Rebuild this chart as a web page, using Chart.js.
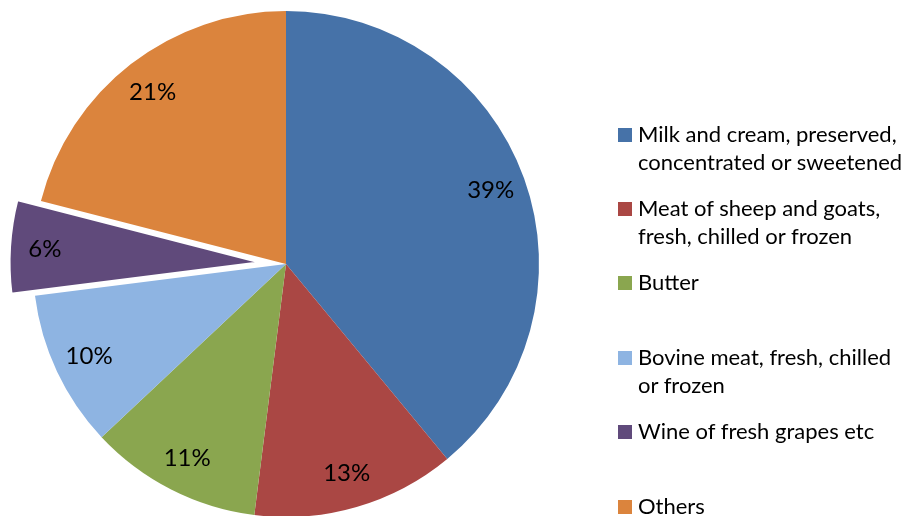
<!DOCTYPE html>
<html>
<head>
<meta charset="utf-8">
<title>Exports by product</title>
<script src="https://cdn.jsdelivr.net/npm/chart.js@4.4.0/dist/chart.umd.min.js"></script>
<style>
  html, body { margin: 0; padding: 0; background: #fff; overflow: hidden; }
  #wrap { position: relative; width: 912px; height: 516px; }
  #legend { position: absolute; left: 618px; top: 0; font-family: Lato, sans-serif; font-size: 22px; color: #000; }
  #legend .item { position: absolute; left: 0; display: flex; align-items: flex-start; white-space: nowrap; }
  #legend .box { width: 14px; height: 14px; margin-top: 8px; margin-right: 6px; flex: none; }
  #legend .text { line-height: 28px; }
</style>
</head>
<body>
<div id="wrap">
  <canvas id="myChart"></canvas>
  <div id="legend"></div>
</div>
<script>
const categories = [
	[ 'Milk and cream, preserved,', 'concentrated or sweetened' ],
	[ 'Meat of sheep and goats,', 'fresh, chilled or frozen' ],
	[ 'Butter' ],
	[ 'Bovine meat, fresh, chilled', 'or frozen' ],
	[ 'Wine of fresh grapes etc' ],
	[ 'Others' ]
];
const shares = [ 39, 13, 11, 10, 6, 21 ];
const sliceColors = [ '#4672a8', '#aa4744', '#8aa64f', '#8eb4e2', '#604a7b', '#db843d' ];

// the wine slice is pulled out of the pie
const explodedIndex = 4;
const explodeDistance = 24;
const legendPitch = 74.4;

// shift the exploded slice's centre after every layout
const explodePlugin = {
	id: 'explode',
	afterUpdate(chart) {
		const arc = chart.getDatasetMeta(0).data[explodedIndex];
		if (!arc) return;
		const mid = (arc.startAngle + arc.endAngle) / 2;
		arc.x += Math.cos(mid) * explodeDistance;
		arc.y += Math.sin(mid) * explodeDistance;
	}
};

// percentage text inside each slice
const sliceLabels = {
	id: 'sliceLabels',
	afterDatasetsDraw(chart) {
		const ctx = chart.ctx;
		const meta = chart.getDatasetMeta(0);
		ctx.save();
		ctx.font = '24px Lato';
		ctx.fillStyle = '#000';
		ctx.textAlign = 'center';
		ctx.textBaseline = 'middle';
		meta.data.forEach((arc, i) => {
			const mid = (arc.startAngle + arc.endAngle) / 2;
			const r = arc.outerRadius * 0.86;
			ctx.fillText(shares[i] + '%', arc.x + Math.cos(mid) * r, arc.y + Math.sin(mid) * r);
		});
		ctx.restore();
	}
};

// legend drawn as html next to the canvas
const htmlLegend = {
	id: 'htmlLegend',
	afterUpdate(chart) {
		const container = document.getElementById('legend');
		container.innerHTML = '';
		const items = chart.options.plugins.legend.labels.generateLabels(chart);
		items.forEach((item, i) => {
			const row = document.createElement('div');
			row.className = 'item';
			row.style.top = (119.5 + i * legendPitch) + 'px';
			const box = document.createElement('span');
			box.className = 'box';
			box.style.background = item.fillStyle;
			const text = document.createElement('span');
			text.className = 'text';
			const lines = Array.isArray(item.text) ? item.text : [ item.text ];
			lines.forEach((line, j) => {
				if (j > 0) text.appendChild(document.createElement('br'));
				text.appendChild(document.createTextNode(line));
			});
			row.appendChild(box);
			row.appendChild(text);
			container.appendChild(row);
		});
	}
};

const ctx = document.getElementById('myChart').getContext('2d');

document.fonts.load('24px Lato').then(() => {
	const chart = new Chart(ctx, {
		type: 'pie',
		data: {
			labels: categories,
			datasets: [
				{
					data: shares,
					backgroundColor: sliceColors,
					borderColor: '#ffffff',
					borderWidth: [ 0, 0, 0, 0, 3, 0 ],
					radius: 253,
					clip: false
				}
			]
		},
		options: {
			maintainAspectRatio: false,
			responsive: true,
			animation: false,
			layout: {
				padding: { left: 0, right: 340, top: 12, bottom: 0 }
			},
			plugins: {
				legend: {
					display: false
				},
				tooltip: {
					enabled: false
				}
			}
		},
		plugins: [ explodePlugin, sliceLabels, htmlLegend ]
	});
});
</script>
</body>
</html>
